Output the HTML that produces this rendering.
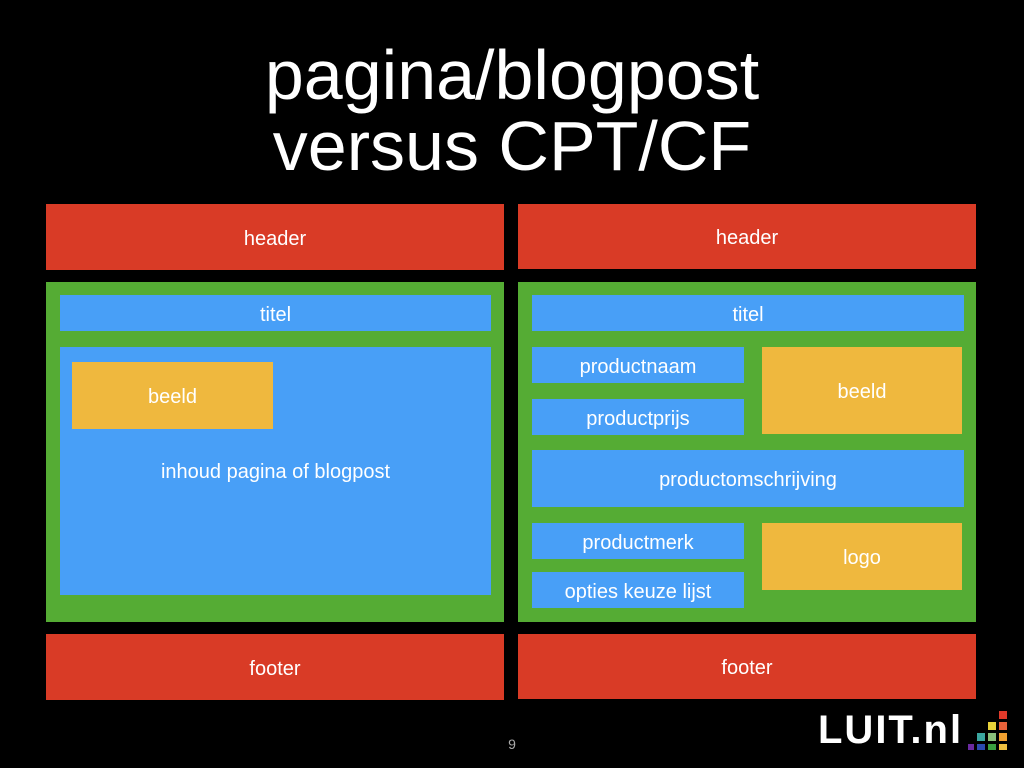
<!DOCTYPE html>
<html><head><meta charset="utf-8"><style>
body{margin:0;width:1024px;height:768px;background:#000;position:relative;overflow:hidden;font-family:"Liberation Sans",sans-serif;}
.b{position:absolute;display:flex;align-items:center;justify-content:center;color:#fff;font-size:20px;padding-top:4px;box-sizing:border-box;}
.r{background:#D93B26}.g{background:#55AC34}.u{background:#489FF7}.y{background:#EFB83E}
.t{position:absolute;left:0;width:1024px;text-align:center;color:#fff;font-size:70px;line-height:1;}
</style></head><body>
<div class="t" style="top:40px">pagina/blogpost</div>
<div class="t" style="top:111px">versus CPT/CF</div>

<div class="b r" style="left:46px;top:204px;width:458px;height:66px">header</div>
<div class="b g" style="left:46px;top:282px;width:458px;height:340px"></div>
<div class="b u" style="left:60px;top:295px;width:431px;height:36px">titel</div>
<div class="b u" style="left:60px;top:347px;width:431px;height:248px;align-items:flex-start;padding-top:114px;">inhoud pagina of blogpost</div>
<div class="b y" style="left:72px;top:362px;width:201px;height:67px">beeld</div>
<div class="b r" style="left:46px;top:634px;width:458px;height:66px">footer</div>

<div class="b r" style="left:518px;top:204px;width:458px;height:65px">header</div>
<div class="b g" style="left:518px;top:282px;width:458px;height:340px"></div>
<div class="b u" style="left:532px;top:295px;width:432px;height:36px">titel</div>
<div class="b u" style="left:532px;top:347px;width:212px;height:36px">productnaam</div>
<div class="b u" style="left:532px;top:399px;width:212px;height:36px">productprijs</div>
<div class="b y" style="left:762px;top:347px;width:200px;height:87px">beeld</div>
<div class="b u" style="left:532px;top:450px;width:432px;height:57px">productomschrijving</div>
<div class="b u" style="left:532px;top:523px;width:212px;height:36px">productmerk</div>
<div class="b u" style="left:532px;top:572px;width:212px;height:36px">opties keuze lijst</div>
<div class="b y" style="left:762px;top:523px;width:200px;height:67px">logo</div>
<div class="b r" style="left:518px;top:634px;width:458px;height:65px">footer</div>

<div style="position:absolute;left:0;width:1024px;top:736px;text-align:center;color:#aaa;font-size:14px">9</div>
<div style="position:absolute;left:818px;top:710px;color:#fff;font-size:40px;font-weight:bold;letter-spacing:2px;line-height:40px">LUIT.nl</div>
<svg style="position:absolute;left:968px;top:710px" width="45" height="40">
<rect x="31" y="1" width="8" height="8" fill="#e03a2a"/>
<rect x="20" y="12" width="8" height="8" fill="#e8d23a"/><rect x="31" y="12" width="8" height="8" fill="#e8623a"/>
<rect x="9" y="23" width="8" height="8" fill="#3aa6a0"/><rect x="20" y="23" width="8" height="8" fill="#8ac07a"/><rect x="31" y="23" width="8" height="8" fill="#f0a030"/>
<rect x="-2" y="34" width="8" height="6" fill="#6a2aa0"/><rect x="9" y="34" width="8" height="6" fill="#2a4ab0"/><rect x="20" y="34" width="8" height="6" fill="#3aa040"/><rect x="31" y="34" width="8" height="6" fill="#f0c040"/>
</svg>
</body></html>
